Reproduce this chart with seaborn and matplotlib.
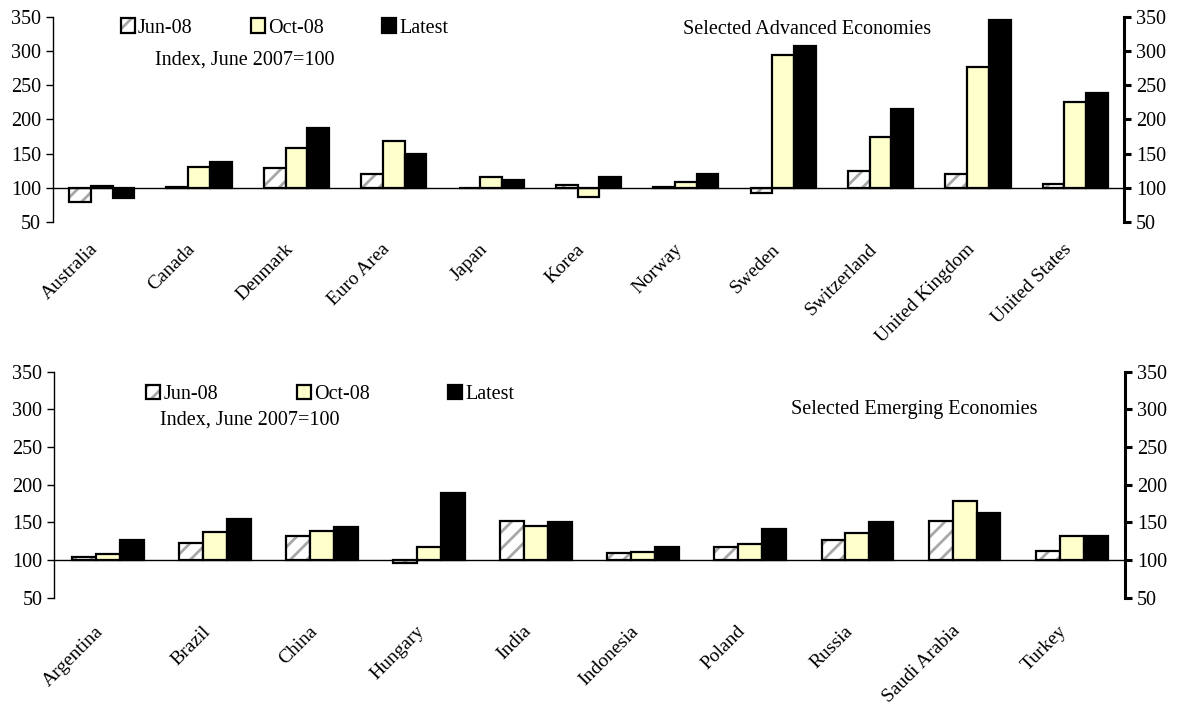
import matplotlib
matplotlib.use("Agg")
import matplotlib.pyplot as plt
import matplotlib.colors as mcolors
import pandas as pd
import seaborn as sns

# data (index, June 2007 = 100)
periods = ["Jun-08", "Oct-08", "Latest"]

adv_countries = ["Australia", "Canada", "Denmark", "Euro Area", "Japan", "Korea",
                 "Norway", "Sweden", "Switzerland", "United Kingdom", "United States"]
adv_jun = [79, 102, 129, 121, 100, 104, 101.5, 93, 125, 120.5, 106]
adv_oct = [103, 131, 158, 168, 116, 87, 109, 295, 175, 277, 226]
adv_latest = [85, 138.5, 188, 150, 111, 115.5, 120, 307.5, 216, 345, 239]

emg_countries = ["Argentina", "Brazil", "China", "Hungary", "India", "Indonesia",
                 "Poland", "Russia", "Saudi Arabia", "Turkey"]
emg_jun = [104, 123, 132, 96, 152, 110, 118, 127, 152, 112]
emg_oct = [108, 137, 138.5, 117.5, 146, 111, 121.5, 136, 179, 132.5]
emg_latest = [127, 155, 144, 188.5, 151, 117.5, 142, 150, 163, 132.5]

yticks = [50, 100, 150, 200, 250, 300, 350]
base = 100

sns.set_style("white")
plt.rcParams["font.family"] = ["Liberation Serif", "DejaVu Serif"]
plt.rcParams["hatch.linewidth"] = 2.0
for k in ["text.color", "axes.labelcolor", "xtick.color", "ytick.color", "axes.edgecolor"]:
    plt.rcParams[k] = "black"

colors = ["white", "#FFFFCC", "black"]
FS = 14.5


def long_df(countries, jun, octo, latest):
    rows = []
    for name, vals in zip(periods, [jun, octo, latest]):
        for c, v in zip(countries, vals):
            rows.append({"country": c, "period": name, "value": v})
    return pd.DataFrame(rows)


def panel(ax, df, label_pad, leg_xy, colspace, idx_xy, title, title_xy):
    sns.barplot(data=df, x="country", y="value", hue="period", palette=colors,
                edgecolor="black", linewidth=1.6, width=0.67, ax=ax, legend=False,
                saturation=1)
    # bars start at the 100 base line
    for cont in ax.containers:
        for p in cont:
            h = p.get_height()
            p.set_y(base)
            p.set_height(h - base)
    for p in ax.containers[0]:
        p.set_hatch("//")
        p._hatch_color = mcolors.to_rgba("#A8A8A8")

    n = df["country"].nunique()
    ax.set_xlim(-0.5, n - 0.5)
    ax.set_ylim(50, 350)
    ax.set_yticks(yticks)
    ax.set_xlabel("")
    ax.set_ylabel("")

    ax.spines["top"].set_visible(False)
    ax.spines["bottom"].set_position(("data", base))
    ax.spines["bottom"].set_linewidth(1.0)
    ax.spines["left"].set_linewidth(1.0)
    ax.spines["right"].set_linewidth(2.2)

    # category labels sit a little left of the group centre, as in the original
    ax.set_xticks([i - 0.125 for i in range(n)])
    ax.set_xticklabels(df["country"].unique(), rotation=45, ha="right",
                       rotation_mode="anchor", fontsize=14)
    ax.tick_params(axis="x", which="major", length=0, pad=label_pad)
    ax.set_xticks([i + 0.5 for i in range(n - 1)], minor=True)
    ax.tick_params(axis="x", which="minor", length=6, width=1, direction="out")
    ax.tick_params(axis="y", left=True, right=True, labelleft=True, labelright=True,
                   direction="out", labelsize=FS, length=5, width=1)
    for t in ax.yaxis.get_ticklines()[1::2]:
        t.set_markeredgewidth(2.2)

    handles = [cont[0] for cont in ax.containers]
    ax.legend(handles, periods, ncol=3, frameon=False, loc="center left",
              bbox_to_anchor=leg_xy, borderaxespad=0, borderpad=0,
              handlelength=0.7, handleheight=0.7, handletextpad=0.15,
              columnspacing=colspace, fontsize=FS)
    ax.text(idx_xy[0], idx_xy[1], "Index, June 2007=100", transform=ax.transAxes,
            fontsize=FS, va="center", ha="left")
    ax.text(title_xy[0], title_xy[1], title, transform=ax.transAxes,
            fontsize=FS, va="center", ha="left")


fig = plt.figure(figsize=(11.77, 7.05), dpi=100)
ax1 = fig.add_axes([0.045, 0.685, 0.910, 0.291])
ax2 = fig.add_axes([0.046, 0.152, 0.910, 0.3206])

panel(ax1, long_df(adv_countries, adv_jun, adv_oct, adv_latest), 38,
      (0.0635, 0.946), 2.9, (0.095, 0.79), "Selected Advanced Economies", (0.588, 0.937))
panel(ax2, long_df(emg_countries, emg_jun, emg_oct, emg_latest), 45,
      (0.086, 0.898), 3.9, (0.099, 0.788), "Selected Emerging Economies", (0.688, 0.832))

fig.savefig("out.png", dpi=100)
